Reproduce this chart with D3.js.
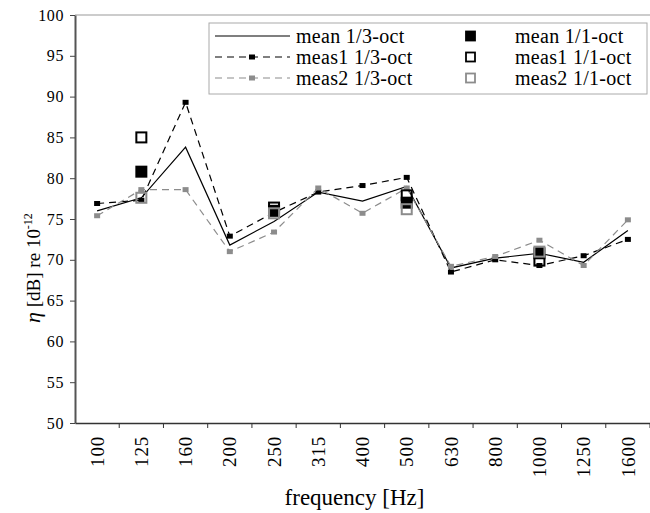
<!DOCTYPE html>
<html>
<head>
<meta charset="utf-8">
<script src="https://cdn.jsdelivr.net/npm/d3@7"></script>
<style>
  body { margin: 0; background: #fff; }
</style>
</head>
<body>
<div id="chart"></div>
<script>
// third-octave bands
let freqs = ['100','125','160','200','250','315','400','500','630','800','1000','1250','1600']
let mean13  = [76.0, 77.6, 83.8, 71.8, 74.7, 78.3, 77.2, 79.0, 69.0, 70.2, 70.8, 69.7, 73.6]
let meas1_13 = [76.9, 77.3, 89.3, 72.9, 75.8, 78.3, 79.1, 80.1, 68.5, 70.0, 69.3, 70.5, 72.5]
let meas2_13 = [75.4, 78.6, 78.6, 71.0, 73.4, 78.8, 75.7, 78.8, 69.2, 70.4, 72.4, 69.3, 74.9]

// octave bands
let octFreqs = ['125','250','500','1000']
let mean11  = [80.8, 76.0, 77.0, 70.8]
let meas1_11 = [85.0, 76.4, 77.9, 69.9]
let meas2_11 = [77.6, 75.7, 76.2, 71.0]

let yTicks = [50,55,60,65,70,75,80,85,90,95,100]

let width = 650, height = 513
let margin = { top: 15, right: 0, bottom: 90, left: 75 }
let serif = 'Liberation Serif, DejaVu Serif, serif'

let svg = d3.select('#chart').append('svg')
    .attr('width', width)
    .attr('height', height)
    .attr('font-family', serif)

let x = d3.scaleBand()
    .domain(freqs)
    .range([margin.left, width - margin.right])
    .padding(0)

let y = d3.scaleLinear()
    .domain([50, 100])
    .range([height - margin.bottom, margin.top])

let cx = f => x(f) + x.bandwidth() / 2

// top border of plot area
svg.append('line')
    .attr('x1', margin.left).attr('x2', width)
    .attr('y1', y(100)).attr('y2', y(100))
    .attr('stroke', '#bbb').attr('stroke-width', 1.5)

// y axis
let yAxis = svg.append('g')
    .attr('transform', `translate(${margin.left},0)`)
    .call(d3.axisLeft(y).tickValues(yTicks).tickSize(5).tickSizeOuter(0))
    .attr('font-family', serif)
    .attr('font-size', 16)
yAxis.select('.domain').attr('stroke', '#555').attr('stroke-width', 2)
yAxis.selectAll('.tick line').attr('stroke', '#444')
yAxis.selectAll('.tick text')
    .attr('x', -11)
    .attr('fill', '#000')
    .attr('letter-spacing', 0.6)

// x axis, ticks between categories
let xAxis = svg.append('g')
    .attr('transform', `translate(0,${y(50)})`)
    .call(d3.axisBottom(x).tickSize(0).tickSizeOuter(0))
    .attr('font-family', serif)
    .attr('font-size', 19)
xAxis.select('.domain').attr('stroke', '#333').attr('stroke-width', 1.5)
xAxis.selectAll('.tick text')
    .attr('transform', 'rotate(-90)')
    .attr('text-anchor', 'end')
    .attr('x', -13)
    .attr('y', 0)
    .attr('dy', '0.35em')
    .attr('fill', '#000')
    .attr('letter-spacing', 0.8)

svg.append('g')
    .selectAll('line')
    .data(freqs)
    .enter().append('line')
    .attr('x1', d => x(d) + x.bandwidth()).attr('x2', d => x(d) + x.bandwidth())
    .attr('y1', y(50)).attr('y2', y(50) + 5)
    .attr('stroke', '#333')

// axis titles
svg.append('text')
    .attr('x', (margin.left + width) / 2 - 8)
    .attr('y', 505)
    .attr('text-anchor', 'middle')
    .attr('font-size', 23)
    .text('frequency [Hz]')

let yTitle = svg.append('text')
    .attr('transform', `translate(40,${(y(50) + y(100)) / 2 + 49}) rotate(-90)`)
    .attr('text-anchor', 'middle')
    .attr('font-size', 19)
yTitle.append('tspan').attr('font-style', 'italic').attr('font-size', 22).text('η')
yTitle.append('tspan').text('  [dB] re 10')
yTitle.append('tspan').attr('font-size', 12).attr('dy', -8).text('-12')

// third-octave lines
let series13 = [
  { vals: mean13, color: '#000', dash: null, marker: false },
  { vals: meas1_13, color: '#000', dash: '7,5', marker: true },
  { vals: meas2_13, color: '#8c8c8c', dash: '7,5', marker: true }
]

let line = d3.line()
    .x((d, i) => cx(freqs[i]))
    .y(d => y(d))

series13.forEach(s => {
  svg.append('path')
      .datum(s.vals)
      .attr('d', line)
      .attr('fill', 'none')
      .attr('stroke', s.color)
      .attr('stroke-width', 1.2)
      .attr('stroke-dasharray', s.dash)
  if (s.marker) {
    svg.append('g')
        .selectAll('rect')
        .data(s.vals)
        .enter().append('rect')
        .attr('x', (d, i) => cx(freqs[i]) - 3)
        .attr('y', d => y(d) - 2.5)
        .attr('width', 6)
        .attr('height', 5)
        .attr('fill', s.color)
  }
})

// octave squares
let series11 = [
  { vals: mean11, fill: '#000', stroke: '#000' },
  { vals: meas1_11, fill: 'none', stroke: '#000' },
  { vals: meas2_11, fill: 'none', stroke: '#8c8c8c' }
]

series11.forEach(s => {
  svg.append('g')
      .selectAll('rect')
      .data(s.vals)
      .enter().append('rect')
      .attr('x', (d, i) => cx(octFreqs[i]) - 5)
      .attr('y', d => y(d) - 5)
      .attr('width', 10)
      .attr('height', 10)
      .attr('fill', s.fill)
      .attr('stroke', s.stroke)
      .attr('stroke-width', 2)
})

// legend
let legend = svg.append('g').attr('font-size', 20)
legend.append('rect')
    .attr('x', 209).attr('y', 23)
    .attr('width', 438).attr('height', 71)
    .attr('fill', '#fff')
    .attr('stroke', '#aaa')
    .attr('stroke-width', 1)

let legend13 = ['mean 1/3-oct', 'meas1 1/3-oct', 'meas2 1/3-oct']
let legend11 = ['mean 1/1-oct', 'meas1 1/1-oct', 'meas2 1/1-oct']

series13.forEach((s, i) => {
  let ly = 36 + i * 21
  legend.append('line')
      .attr('x1', 215).attr('x2', 290)
      .attr('y1', ly).attr('y2', ly)
      .attr('stroke', s.color)
      .attr('stroke-width', 1.2)
      .attr('stroke-dasharray', s.dash)
  if (s.marker) {
    legend.append('rect')
        .attr('x', 249).attr('y', ly - 2.5)
        .attr('width', 6).attr('height', 5)
        .attr('fill', s.color)
  }
  legend.append('text')
      .attr('x', 296).attr('y', ly)
      .attr('dy', '0.33em')
      .attr('letter-spacing', 0.3)
      .text(legend13[i])
})

series11.forEach((s, i) => {
  let ly = 36 + i * 21
  legend.append('rect')
      .attr('x', 466).attr('y', ly - 4.5)
      .attr('width', 9).attr('height', 9)
      .attr('fill', s.fill)
      .attr('stroke', s.stroke)
      .attr('stroke-width', 1.8)
  legend.append('text')
      .attr('x', 515).attr('y', ly)
      .attr('dy', '0.33em')
      .attr('letter-spacing', 0.3)
      .text(legend11[i])
})
</script>
</body>
</html>
